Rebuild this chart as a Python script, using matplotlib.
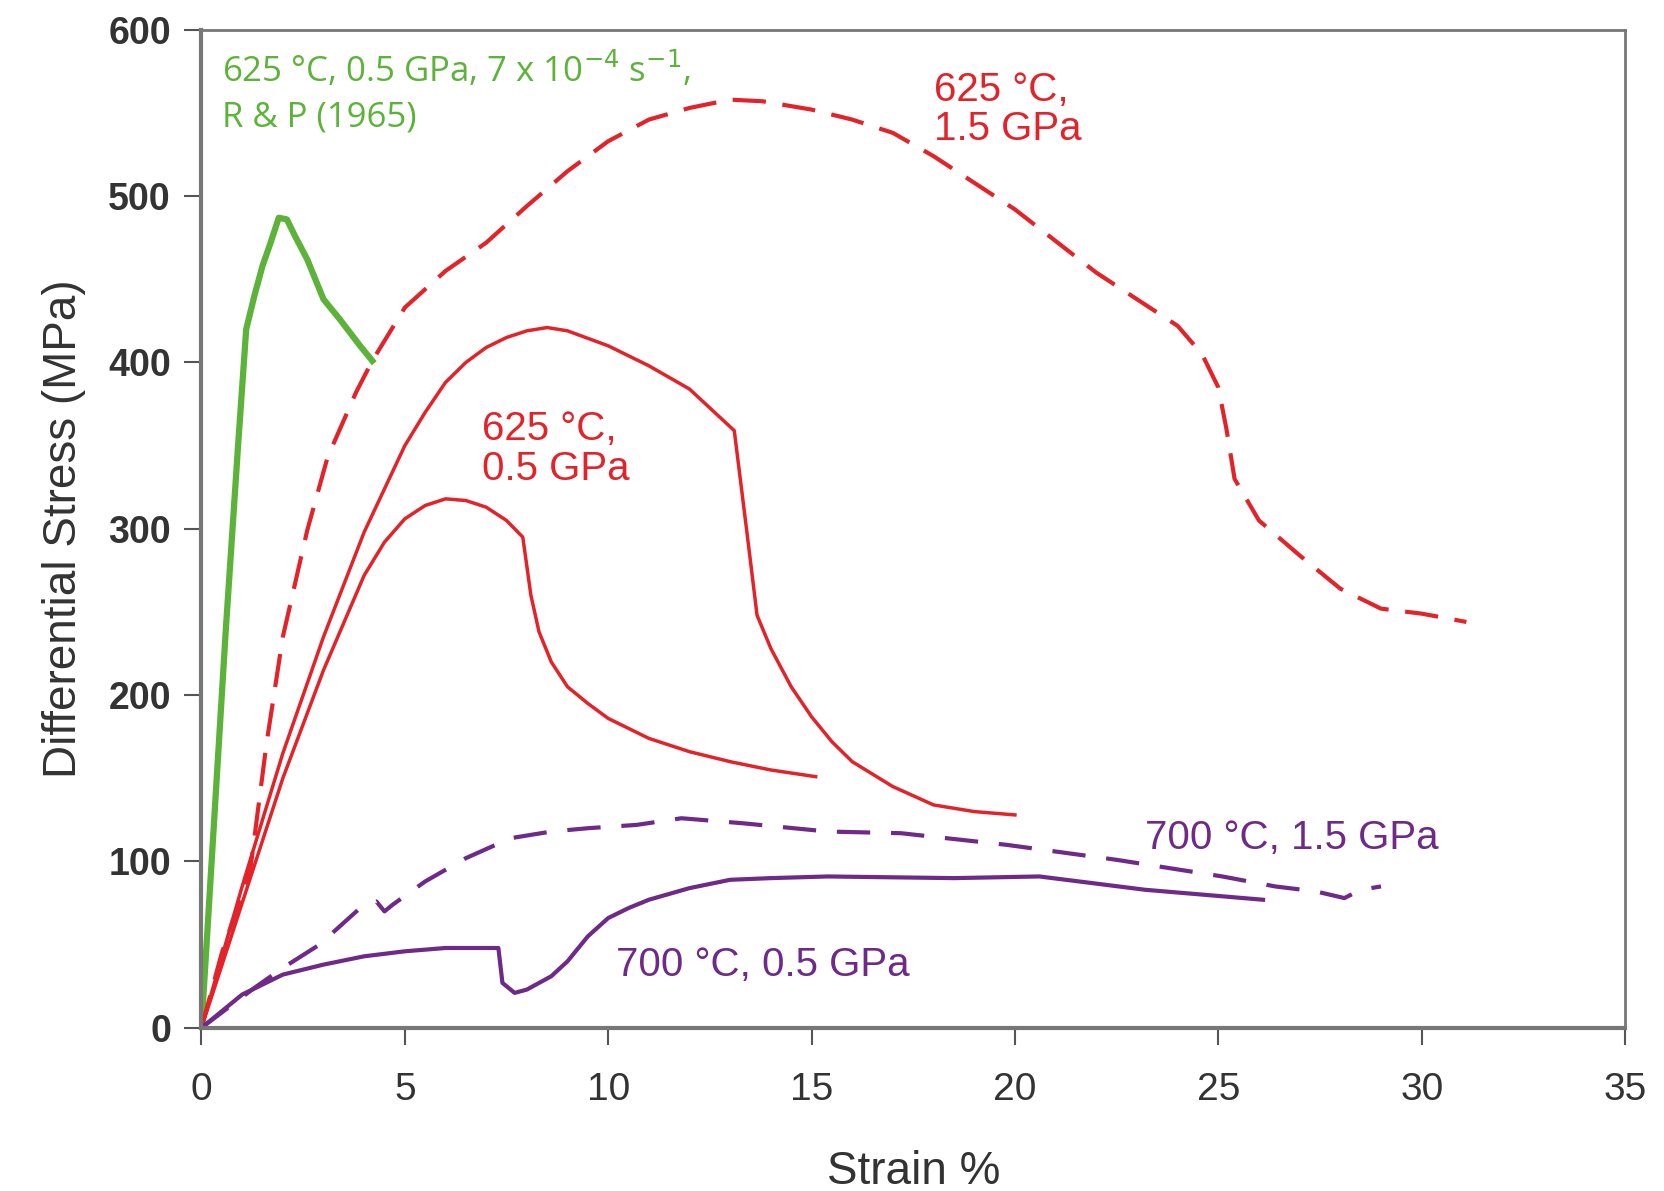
import matplotlib.pyplot as plt

# Data (strain %, differential stress MPa)
green_x = [0, 0.3, 0.6, 0.9, 1.1, 1.3, 1.5, 1.7, 1.9, 2.1, 2.3, 2.6, 3.0, 3.4, 3.9, 4.2]
green_y = [0, 120, 240, 350, 420, 440, 458, 472, 487, 486, 476, 462, 438, 426, 410, 401]

red15_x = [0, 0.5, 1.2, 1.6, 2.0, 2.6, 3.1, 3.8, 4.2, 5.0, 6.0, 7.0, 8.0, 9.0, 10.0, 11.0, 12.0,
           13.0, 13.8, 15.0, 16.0, 17.0, 18.0, 19.0, 20.0, 21.0, 22.0, 23.0, 24.0, 24.6, 25.0,
           25.2, 25.4, 26.0, 27.0, 28.0, 29.0, 30.0, 31.1]
red15_y = [0, 45, 95, 171, 235, 299, 343, 382, 401, 433, 455, 472, 494, 515, 533, 546, 553,
           558, 557, 552, 546, 538, 524, 508, 492, 473, 454, 438, 422, 405, 385,
           360, 330, 305, 284, 264, 252, 249, 244]

red05a_x = [0, 1, 2, 3, 4, 5, 5.5, 6, 6.5, 7, 7.5, 8, 8.5, 9, 10, 11, 12, 13.1, 13.4, 13.66,
            14.0, 14.5, 15.0, 15.5, 16.0, 17.0, 18.0, 19.0, 20.0]
red05a_y = [0, 85, 165, 235, 298, 350, 370, 388, 400, 409, 415, 419, 421, 419, 410, 398, 384,
            359, 300, 248, 228, 205, 187, 172, 160, 145, 134, 130, 128]

red05b_x = [0, 1, 2, 3, 4, 4.5, 5, 5.5, 6, 6.5, 7, 7.5, 7.9, 8.1, 8.3, 8.6, 9.0, 9.5, 10, 11,
            12, 13, 14, 15.1]
red05b_y = [0, 75, 150, 215, 272, 292, 306, 314, 318, 317, 313, 305, 295, 260, 238, 220, 205,
            195, 186, 174, 166, 160, 155, 151]

pur15_x = [0, 1.3, 2.0, 2.9, 3.9, 4.3, 4.5, 4.7, 5.5, 6.5, 7.6, 8.6, 9.5, 10.7, 11.8, 13.3,
           15.4, 17.2, 19.8, 22.5, 25.1, 26.4, 27.4, 28.1, 28.5, 29.0]
pur15_y = [0, 24, 36, 50, 72, 76, 70, 74, 88, 102, 114, 118, 120, 122, 126, 123,
           118, 117, 110, 101, 91, 85, 82, 78, 83, 85]

pur05_x = [0, 1, 2, 3, 4, 5, 6, 7, 7.3, 7.4, 7.7, 8.0, 8.6, 9.0, 9.5, 10.0, 10.5, 11.0, 12.0,
           13.0, 14.0, 15.4, 18.5, 20.6, 23.2, 26.1]
pur05_y = [0, 20, 32, 38, 43, 46, 48, 48, 48, 27, 21, 23, 31, 40, 55, 66, 72, 77, 84,
           89, 90, 91, 90, 91, 83, 77]

RED = '#e2232a'
GREEN = '#5db33a'
PURPLE = '#6e2a86'

plt.rcParams['font.family'] = ['Liberation Sans', 'DejaVu Sans']

fig = plt.figure(figsize=(16.65, 11.91), dpi=100)
ax = fig.add_axes([0.121, 0.137, 0.855, 0.838])

ax.plot(green_x, green_y, color=GREEN, lw=4.5)
ax.plot(red15_x, red15_y, color=RED, lw=3, dashes=(8, 4))
ax.plot(red05a_x, red05a_y, color=RED, lw=2.5)
ax.plot(red05b_x, red05b_y, color=RED, lw=2.5)
ax.plot(pur15_x, pur15_y, color=PURPLE, lw=3, dashes=(8, 5))
ax.plot(pur05_x, pur05_y, color=PURPLE, lw=3)

ax.text(0.5, 576, '625 \u00b0C, 0.5 GPa, 7 x 10$^{-4}$ s$^{-1}$,', color=GREEN, fontsize=25,
        va='center', family=['Open Sans', 'DejaVu Sans'])
ax.text(0.5, 547, 'R & P (1965)', color=GREEN, fontsize=25, va='center',
        family=['Open Sans', 'DejaVu Sans'])
ax.text(18.0, 552, '625 \u00b0C,\n1.5 GPa', color=RED, fontsize=29, va='center',
        linespacing=1.05)
ax.text(6.9, 348, '625 \u00b0C,\n0.5 GPa', color=RED, fontsize=29, va='center',
        linespacing=1.05)
ax.text(23.2, 114, '700 \u00b0C, 1.5 GPa', color=PURPLE, fontsize=29, va='center')
ax.text(10.2, 38, '700 \u00b0C, 0.5 GPa', color=PURPLE, fontsize=29, va='center')

ax.set_xlim(0, 35)
ax.set_ylim(0, 600)
ax.set_xticks(range(0, 36, 5))
ax.set_yticks(range(0, 601, 100))
ax.tick_params(colors='#333333', length=12, width=1.5)
ax.tick_params(axis='both', color='#555555')
ax.tick_params(axis='y', labelsize=27, pad=10)
ax.tick_params(axis='x', labelsize=28, pad=20)
for lab in ax.get_yticklabels():
    lab.set_fontweight('bold')
for s in ax.spines.values():
    s.set_color('#777777')
    s.set_linewidth(2)
ax.spines['left'].set_linewidth(3)
ax.spines['bottom'].set_linewidth(3)

ax.set_xlabel('Strain %', fontsize=33, color='#333333', labelpad=30)
ax.set_ylabel('Differential Stress (MPa)', fontsize=33, color='#333333', labelpad=16)

fig.savefig('out.png', dpi=100)
